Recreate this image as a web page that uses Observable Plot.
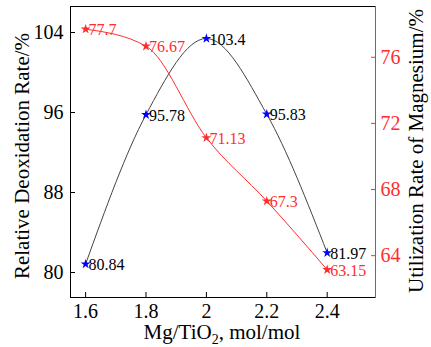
<!DOCTYPE html>
<html><head><meta charset="utf-8">
<script src="https://cdn.jsdelivr.net/npm/d3@7"></script>
<script src="https://cdn.jsdelivr.net/npm/@observablehq/plot@0.6"></script>
<style>
body{margin:0;background:#fff}
#chart{position:relative;width:431px;height:347px}
#chart svg{position:absolute;left:0;top:0}
</style>
</head><body><div id="chart"></div>
<script>
const ratio = [1.6, 1.8, 2.0, 2.2, 2.4];
const deox = [80.84, 95.78, 103.4, 95.83, 81.97];
const util = [77.7, 76.67, 71.13, 67.3, 63.15];
const deoxLabels = ["80.84", "95.78", "103.4", "95.83", "81.97"];
const utilLabels = ["77.7", "76.67", "71.13", "67.3", "63.15"];
const xTicks = [1.6, 1.8, 2.0, 2.2, 2.4];
const yLeftTicks = [80, 88, 96, 104];
const yRightTicks = [64, 68, 72, 76];
const xTitle = ["Mg/TiO", "2", ", mol/mol"];
const yLeftTitle = "Relative Deoxidation Rate/%";
const yRightTitle = "Utilization Rate of Magnesium/%";

const idx = d3.range(ratio.length);
const RED = "#ff2e2e";
const FONT = "Liberation Serif";

const common = {
  width: 431, height: 347,
  marginLeft: 70, marginRight: 56, marginTop: 6, marginBottom: 50,
  style: {fontFamily: FONT, fontSize: "20px", background: "transparent", overflow: "visible"}
};

const left = Plot.plot({
  ...common,
  x: {domain: [1.55, 2.56]},
  y: {domain: [77.5, 106.6]},
  marks: [
    Plot.frame({anchor: "top", stroke: "black"}),
    Plot.frame({anchor: "left", stroke: "black"}),
    Plot.frame({anchor: "bottom", stroke: "black"}),
    Plot.axisX({ticks: xTicks, tickSize: 5, dy: -5, tickFormat: () => "", label: null}),
    Plot.axisX({ticks: xTicks, tickSize: 0, tickPadding: 6, tickFormat: d => String(d), label: null, fill: "black"}),
    Plot.axisY({ticks: yLeftTicks, tickSize: 5, dx: 5, tickFormat: () => "", label: null}),
    Plot.axisY({ticks: yLeftTicks, tickSize: 0, tickPadding: 7, tickFormat: d => String(d), label: null, fill: "black"}),
    Plot.line(idx, {x: i => ratio[i], y: i => deox[i], curve: "monotone-x", stroke: "#444", strokeWidth: 1}),
    Plot.dot(idx, {x: i => ratio[i], y: i => deox[i], symbol: "star", fill: "blue", r: 3.1}),
    Plot.text(idx, {x: i => ratio[i], y: i => deox[i], text: i => deoxLabels[i], textAnchor: "start", dx: 3, dy: 1, fontSize: 16, fill: "black"}),
    Plot.text([yLeftTitle], {text: d => d, frameAnchor: "left", textAnchor: "middle", lineAnchor: "middle", rotate: -90, dx: -48, dy: 4, fontSize: 21, fill: "black"})
  ]
});

const right = Plot.plot({
  ...common,
  x: {domain: [1.55, 2.56], axis: null},
  y: {domain: [61.47, 79.07]},
  marks: [
    Plot.frame({anchor: "right", stroke: RED}),
    Plot.axisY({anchor: "right", ticks: yRightTicks, tickSize: 5, dx: -5, tickFormat: () => "", label: null, stroke: RED}),
    Plot.axisY({anchor: "right", ticks: yRightTicks, tickSize: 0, tickPadding: 5, tickFormat: d => String(d), label: null, fill: RED}),
    Plot.line(idx, {x: i => ratio[i], y: i => util[i], curve: "monotone-x", stroke: RED, strokeWidth: 1}),
    Plot.dot(idx, {x: i => ratio[i], y: i => util[i], symbol: "star", fill: RED, r: 3.1}),
    Plot.text(idx, {x: i => ratio[i], y: i => util[i], text: i => utilLabels[i], textAnchor: "start", dx: 3, dy: 1, fontSize: 16, fill: RED}),
    Plot.text([yRightTitle], {text: d => d, frameAnchor: "right", textAnchor: "middle", lineAnchor: "middle", rotate: -90, dx: 41, dy: -1, fontSize: 21, fill: "black"})
  ]
});

// x-axis title with subscript
const xt = d3.select(left).append("text")
  .attr("x", 222).attr("y", 339)
  .attr("text-anchor", "middle")
  .attr("font-family", FONT).attr("font-size", 21).attr("fill", "black");
xt.append("tspan").text(xTitle[0]);
xt.append("tspan").attr("font-size", 14).attr("dy", 5).text(xTitle[1]);
xt.append("tspan").attr("dy", -5).text(xTitle[2]);

const c = document.getElementById("chart");
c.appendChild(left);
c.appendChild(right);
</script>
</body></html>
